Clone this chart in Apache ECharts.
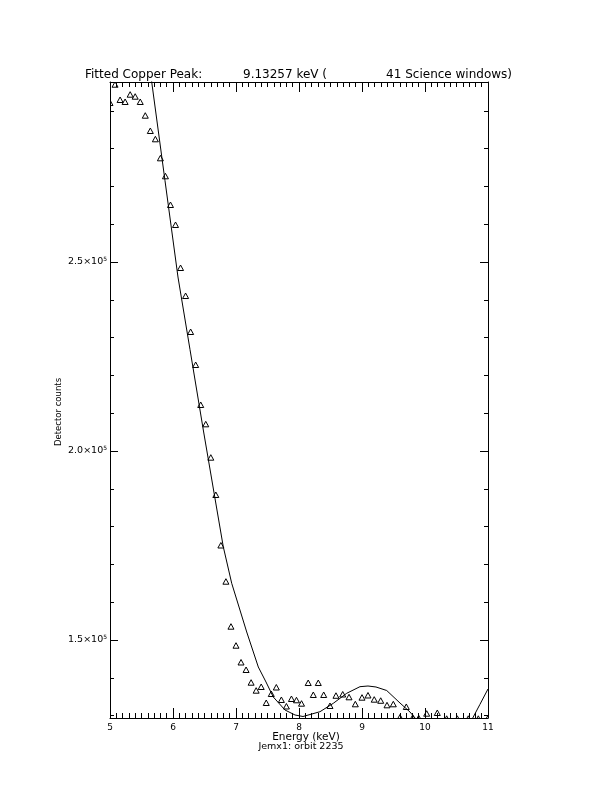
<!DOCTYPE html>
<html><head><meta charset="utf-8">
<script src="https://cdn.jsdelivr.net/npm/echarts@6/dist/echarts.min.js"></script>
<style>html,body{margin:0;padding:0;background:#fff}#c{width:612px;height:792px}</style>
</head><body><div id="c"></div>
<script>
// Measured detector counts (triangles)
const energy = [5.00,5.08,5.16,5.24,5.32,5.40,5.48,5.56,5.64,5.72,5.80,5.88,5.96,6.04,6.12,6.20,6.28,6.36,6.44,6.52,6.60,6.68,6.76,6.84,6.92,7.00,7.08,7.16,7.24,7.32,7.40,7.48,7.56,7.64,7.72,7.80,7.88,7.96,8.04,
  8.146,8.227,8.306,8.392,8.492,8.587,8.694,8.794,8.894,9.000,9.095,9.194,9.297,9.397,9.497,9.603,9.703,9.805,9.900,10.027,10.195,10.344,10.513,10.687,10.846,10.995];
const counts = [292060,296900,292860,292330,294260,293730,292330,288700,284660,282460,277430,272670,265080,259790,248410,241000,231480,222750,212170,207060,198230,188360,175000,165420,153520,148490,144050,142060,138700,136590,137570,133330,135710,137430,134130,132410,134390,134050,133150,
  138620,135450,138620,135450,132540,135240,135580,134840,132990,134740,135320,134210,133920,132720,132990,129500,132280,129420,129290,130500,130690,129150,129150,129150,129150,129150];
// Fitted model curve
const fitEnergy = [5.619,5.662,5.873,6.079,6.270,6.481,6.698,6.798,6.932,7.048,7.170,7.354,7.476,7.592,7.778,7.937,8.063,8.333,8.544,8.757,8.968,9.095,9.222,9.392,9.603,9.762,9.841,10.0,10.2,10.4,10.6,10.741,10.87,11.0];
const fitCounts = [303440,297620,271530,246030,226830,205560,184390,174680,165000,158730,152120,142860,138890,134920,131480,130160,129760,131030,133250,135900,137650,137830,137570,136640,133330,130950,129370,127000,125300,124800,126000,128840,132900,137040];
const yMajorTicks = [150000,200000,250000];
const yMinorTicks = [130000,140000,160000,170000,180000,190000,210000,220000,230000,240000,260000,270000,280000,290000];
const xMin = 5, xMax = 11, yMin = 129365, yMax = 297620;

const FF = '"DejaVu Sans", sans-serif';
const pts = energy.map((e, i) => [e, counts[i]]);
const fit = fitEnergy.map((e, i) => [e, fitCounts[i]]);

function xAxisDef(pos, showLabel) {
  return {
    type: 'value', position: pos, min: xMin, max: xMax, interval: 1,
    axisLine: { show: true, onZero: false, lineStyle: { color: '#000', width: 1 } },
    axisTick: { show: true, inside: true, length: 10, lineStyle: { color: '#000', width: 1 } },
    minorTick: { show: true, splitNumber: 10, length: 5, lineStyle: { color: '#000', width: 1 } },
    axisLabel: { show: showLabel, color: '#000', fontSize: 9, fontFamily: FF, margin: 5 },
    splitLine: { show: false }, minorSplitLine: { show: false }
  };
}
function yAxisDef(pos, ticks, len, showLine, showLabel) {
  return {
    type: 'value', position: pos, min: yMin, max: yMax,
    axisLine: { show: showLine, onZero: false, lineStyle: { color: '#000', width: 1 } },
    axisTick: { show: true, inside: true, length: len, customValues: ticks, lineStyle: { color: '#000', width: 1 } },
    axisLabel: {
      show: showLabel, customValues: ticks, margin: 3, color: '#000',
      formatter: v => '{a|' + (v / 100000).toFixed(1) + '×10}{b|5}',
      rich: {
        a: { fontSize: 9.5, fontFamily: FF, color: '#000', lineHeight: 12 },
        b: { fontSize: 6, fontFamily: FF, color: '#000', verticalAlign: 'top', lineHeight: 6 }
      }
    },
    splitLine: { show: false }
  };
}

const chart = echarts.init(document.getElementById('c'), null, { renderer: 'canvas' });
chart.setOption({
  backgroundColor: '#fff',
  animation: false,
  grid: { left: 110, right: 124, top: 82, bottom: 74, containLabel: false },
  xAxis: [xAxisDef('bottom', true), xAxisDef('top', false)],
  yAxis: [
    yAxisDef('left', yMajorTicks, 8, true, true),
    yAxisDef('left', yMinorTicks, 4, false, false),
    yAxisDef('right', yMajorTicks, 8, true, false),
    yAxisDef('right', yMinorTicks, 4, false, false)
  ],
  series: [
    { type: 'line', data: fit, xAxisIndex: 0, yAxisIndex: 0, showSymbol: false, symbol: 'none', clip: true,
      lineStyle: { color: '#000', width: 1 } },
    { type: 'custom', data: pts, xAxisIndex: 0, yAxisIndex: 0, clip: true, encode: { x: 0, y: 1 },
      renderItem: (params, api) => {
        const p = api.coord([api.value(0), api.value(1)]);
        return { type: 'polygon',
          shape: { points: [[p[0], p[1] - 3], [p[0] + 3, p[1] + 2.5], [p[0] - 3, p[1] + 2.5]] },
          style: { fill: 'none', stroke: '#000', lineWidth: 1 } };
      } }
  ],
  graphic: [
    { type: 'text', x: 85, y: 75, style: { text: 'Fitted Copper Peak:', font: '12px ' + FF, fill: '#000', verticalAlign: 'middle' } },
    { type: 'text', x: 243, y: 75, style: { text: '9.13257 keV (', font: '12px ' + FF, fill: '#000', verticalAlign: 'middle' } },
    { type: 'text', x: 512, y: 75, style: { text: '41 Science windows)', font: '12px ' + FF, fill: '#000', align: 'right', verticalAlign: 'middle' } },
    { type: 'text', x: 306, y: 737.5, style: { text: 'Energy (keV)', font: '10.5px ' + FF, fill: '#000', align: 'center', verticalAlign: 'middle' } },
    { type: 'text', x: 301, y: 746.5, style: { text: 'Jemx1: orbit 2235', font: '9.5px ' + FF, fill: '#000', align: 'center', verticalAlign: 'middle' } },
    { type: 'text', x: 59, y: 412, rotation: Math.PI / 2, style: { text: 'Detector counts', font: '8.5px ' + FF, fill: '#000', align: 'center', verticalAlign: 'middle' } }
  ]
});
</script>
</body></html>
